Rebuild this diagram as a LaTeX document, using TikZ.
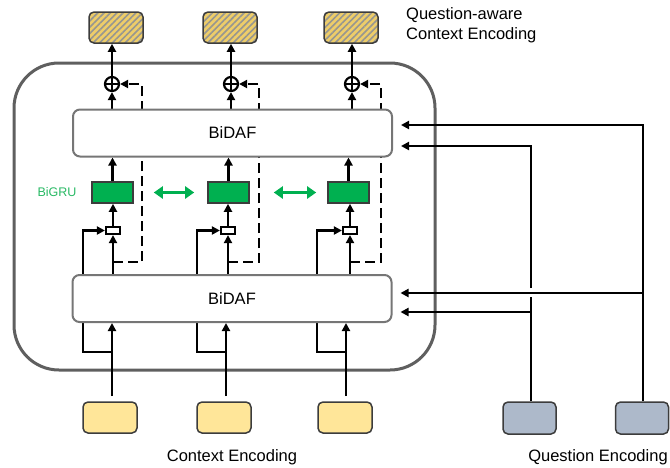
\documentclass[tikz,border=0pt]{standalone}
\usepackage{fontspec}
\setmainfont{Liberation Sans}
\usetikzlibrary{arrows.meta,patterns.meta,calc}
\definecolor{qcol}{RGB}{173,185,202}
\definecolor{ccol}{RGB}{255,230,153}
\definecolor{hyel}{RGB}{238,205,105}
\definecolor{hgray}{RGB}{150,150,145}
\definecolor{gcol}{RGB}{0,176,80}
\definecolor{gtxt}{RGB}{40,185,100}
\definecolor{outer}{RGB}{95,95,95}
\definecolor{bbord}{RGB}{118,118,118}
\definecolor{dbord}{RGB}{60,60,60}
\newcommand\mainfs{\fontsize{16.5}{20}\selectfont}
\pgfdeclarelayer{bg}
\pgfsetlayers{bg,main}
\tikzset{
  ln/.style={line width=2.6pt},
  arr/.style={ln, -{Triangle[length=8pt,width=8pt]}},
  dsh/.style={ln, dash pattern=on 10pt off 5pt, -{Triangle[length=8pt,width=8pt]}},
  bidaf/.style={draw=bbord, line width=2pt, rounded corners=7pt, fill=white,
    minimum width=319pt, minimum height=47pt, inner sep=0pt, font=\mainfs},
  gru/.style={draw=dbord, line width=1.6pt, fill=gcol, minimum width=41pt,
    minimum height=21pt, inner sep=0pt},
  sbox/.style={draw=black, line width=2.2pt, fill=white, minimum width=14pt,
    minimum height=7pt, inner sep=0pt},
  cp/.style={circle, draw=black, line width=2.2pt, minimum size=14pt, inner sep=0pt, fill=white},
  hbox/.style={draw=dbord, line width=1.5pt, rounded corners=5pt,
    preaction={fill=hyel}, pattern={Lines[angle=45,distance=4.5pt,line width=1.6pt]},
    pattern color=hgray, minimum width=54pt, minimum height=31pt, inner sep=0pt},
  cbox/.style={draw=dbord, line width=1.5pt, rounded corners=5pt, fill=ccol,
    minimum width=54pt, minimum height=31pt, inner sep=0pt},
  qbox/.style={draw=dbord, line width=1.5pt, rounded corners=5pt, fill=qcol,
    minimum width=53pt, minimum height=32pt, inner sep=0pt},
  garr/.style={draw=gcol, line width=3.5pt,
    {Triangle[length=9pt,width=12pt]}-{Triangle[length=9pt,width=12pt]}},
  lbl/.style={font=\mainfs, inner sep=0pt}
}
\begin{document}
\begin{tikzpicture}[x=1pt,y=-1pt]
\useasboundingbox (0,0) rectangle (670,467);

% outer container
\begin{pgfonlayer}{bg}
\draw[draw=outer, line width=3pt, rounded corners=45pt] (14,63) rectangle (435,370);
\end{pgfonlayer}

% BiDAF layers
\node[bidaf] (b1) at (232.5,133) {BiDAF};
\node[bidaf] (b2) at (232,298.5) {BiDAF};

% top outputs
\node[hbox] (t1) at (116,27.5) {};
\node[hbox] (t2) at (230,27.5) {};
\node[hbox] (t3) at (351,27.5) {};

% context encodings
\node[cbox] (c1) at (110,417.5) {};
\node[cbox] (c2) at (224,417.5) {};
\node[cbox] (c3) at (345,417.5) {};

% question encodings
\node[qbox] (q1) at (529.5,418) {};
\node[qbox] (q2) at (642,418) {};

% GRU boxes
\node[gru] (g1) at (112.5,192.5) {};
\node[gru] (g2) at (228.5,192.5) {};
\node[gru] (g3) at (348.5,192.5) {};

% small gate boxes
\node[sbox] (s1) at (113,230.5) {};
\node[sbox] (s2) at (228,230.5) {};
\node[sbox] (s3) at (350,230.5) {};

% circle plus
\node[cp] (p1) at (112,84) {};
\node[cp] (p2) at (231,84) {};
\node[cp] (p3) at (352,84) {};
\foreach \p in {p1,p2,p3}{
  \draw[line width=2pt] (\p.north) -- (\p.south) (\p.west) -- (\p.east);
}

% labels
\node[lbl, text=gtxt, font=\fontsize{12.5}{14}\selectfont] (bg) at (57,192) {BiGRU};
\node[lbl, anchor=west, align=left] (qa) at (406,25) {Question-aware\\Context Encoding};
\node[lbl] (ce) at (232,457) {Context Encoding};
\node[lbl] (qe) at (598,457) {Question Encoding};

% column helper coordinates
\coordinate (l1) at (83,0);  \coordinate (l2) at (197,0); \coordinate (l3) at (317,0);
\coordinate (d1) at (142,0); \coordinate (d2) at (259,0); \coordinate (d3) at (381,0);
\coordinate (hy) at (0,262);
\coordinate (jy) at (0,352);
\coordinate (v1) at (112,396); \coordinate (v2) at (226,396); \coordinate (v3) at (346,396);

\begin{pgfonlayer}{bg}
\foreach \i in {1,2,3}{
  % top part
  \draw[arr] (p\i.north) -- (p\i.north |- t\i.south);
  \draw[arr] (p\i.south |- b1.north) -- (p\i.south);
  \draw[arr] (g\i.north) -- (g\i.north |- b1.south);
  \draw[arr] (s\i.north) -- (s\i.north |- g\i.south);
  \draw[arr] (s\i.south |- b2.north) -- (s\i.south);
  \draw[arr] (l\i |- b2.north) |- (s\i.west);
  \draw[dsh] (s\i.south |- hy) -| (d\i |- p\i.east) -- (p\i.east);
  % bottom part
  \draw[arr] (v\i) -- (v\i |- b2.south);
  \draw[ln] (l\i |- b2.south) |- (v\i |- jy);
}

% question encoding feeds
\coordinate (qa1) at (531,288);
\coordinate (qb1) at (531,297);
\coordinate (y146) at (0,146);
\coordinate (y125) at (0,125);
\coordinate (y312) at (0,312);
\coordinate (y293) at (0,293);
\draw[ln] (q1.north -| qb1) -- (qb1);
\draw[arr, shorten >=8pt] (qa1) |- (b1.east |- y146);
\draw[arr, shorten >=8pt] (qa1 |- y312) -- (b2.east |- y312);
\draw[arr, shorten >=8pt] (q2.north -| 643,0) |- (b1.east |- y125);
\draw[arr, shorten >=8pt] (643,293) -- (b2.east |- y293);
\end{pgfonlayer}

% green bidirectional arrows
\draw[garr, shorten <=20pt, shorten >=13pt] (g1.east) -- (g2.west);
\draw[garr, shorten <=24pt, shorten >=11pt] (g2.east) -- (g3.west);
\end{tikzpicture}
\end{document}
